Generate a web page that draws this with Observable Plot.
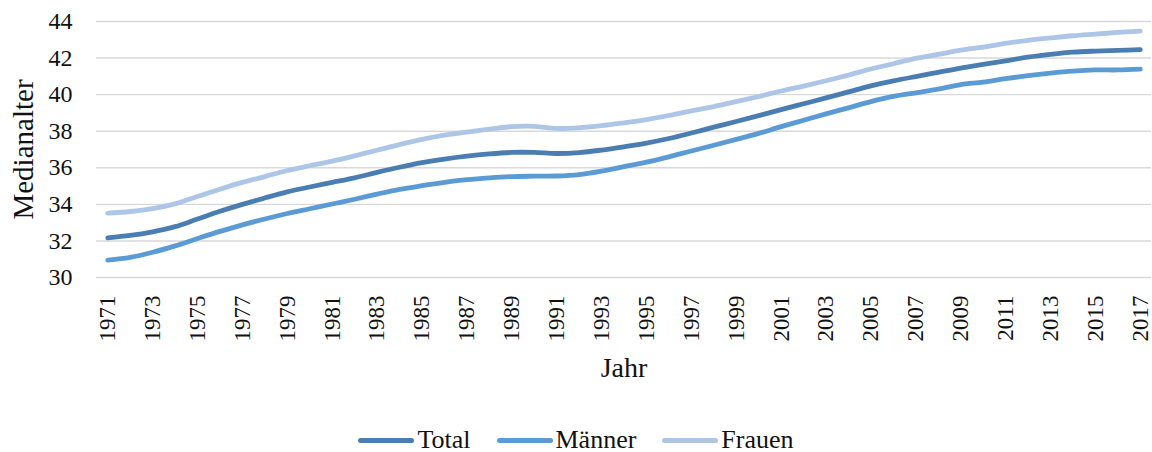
<!DOCTYPE html>
<html>
<head>
<meta charset="utf-8">
<script src="https://cdn.jsdelivr.net/npm/d3@7"></script>
<script src="https://cdn.jsdelivr.net/npm/@observablehq/plot@0.6"></script>
<style>
  html, body { margin: 0; padding: 0; background: #fff; }
  body { position: relative; width: 1152px; height: 452px; overflow: hidden; font-family: "Liberation Serif", "DejaVu Serif", serif; color: #111; }
  #legend { position: absolute; left: 0; top: 428px; width: 1152px; display: flex; justify-content: center; align-items: center; height: 24px; line-height: 24px; font-size: 26px; }
  .item { display: flex; align-items: center; margin: 0 13px; }
  .sw { width: 56px; height: 5px; border-radius: 3px; margin-right: 3px; }
</style>
</head>
<body>
<div id="chart"></div>
<div id="legend"></div>
<script>
const years = d3.range(1971, 2018);
const seriesNames = ["Total", "Männer", "Frauen"];
const seriesColors = ["#4a7db1", "#5b9bd5", "#adc5e7"];
const yTicks = [30, 32, 34, 36, 38, 40, 42, 44];
const xTicks = d3.range(1971, 2018, 2);

const total = [32.17, 32.30, 32.50, 32.78, 33.20, 33.62, 34.00, 34.35, 34.68, 34.95,
  35.20, 35.45, 35.75, 36.03, 36.28, 36.48, 36.64, 36.76, 36.84, 36.84,
  36.78, 36.83, 36.97, 37.15, 37.35, 37.60, 37.90, 38.22, 38.53, 38.85,
  39.18, 39.50, 39.82, 40.15, 40.48, 40.75, 40.99, 41.22, 41.45, 41.65,
  41.85, 42.05, 42.20, 42.32, 42.38, 42.42, 42.46];
const maenner = [30.95, 31.10, 31.38, 31.73, 32.13, 32.52, 32.88, 33.20, 33.50, 33.76,
  34.02, 34.28, 34.56, 34.82, 35.02, 35.20, 35.35, 35.45, 35.52, 35.54,
  35.55, 35.63, 35.82, 36.06, 36.31, 36.60, 36.92, 37.23, 37.55, 37.88,
  38.25, 38.60, 38.95, 39.28, 39.62, 39.90, 40.10, 40.30, 40.55, 40.68,
  40.87, 41.04, 41.18, 41.29, 41.35, 41.35, 41.40];
const frauen = [33.52, 33.61, 33.77, 34.03, 34.43, 34.83, 35.20, 35.52, 35.85, 36.11,
  36.36, 36.65, 36.96, 37.27, 37.55, 37.78, 37.95, 38.11, 38.25, 38.27,
  38.15, 38.19, 38.30, 38.46, 38.64, 38.86, 39.11, 39.35, 39.62, 39.90,
  40.20, 40.47, 40.76, 41.07, 41.40, 41.69, 41.98, 42.20, 42.43, 42.60,
  42.80, 42.97, 43.10, 43.22, 43.31, 43.40, 43.47];

const seriesValues = [total, maenner, frauen];
const data = seriesNames.flatMap((name, i) =>
  years.map((year, j) => ({ series: name, year, value: seriesValues[i][j] })));

const chart = Plot.plot({
  width: 1152,
  height: 400,
  marginLeft: 96,
  marginRight: 1,
  marginTop: 21,
  marginBottom: 123,
  style: { fontFamily: "Liberation Serif, DejaVu Serif, serif", color: "#111", background: "#fff" },
  x: { type: "linear", domain: [1970.5, 2017.5] },
  y: { domain: [30, 44] },
  color: { domain: seriesNames, range: seriesColors },
  marks: [
    Plot.ruleY(yTicks, { stroke: "#d9d9d9", strokeWidth: 1.4 }),
    Plot.axisY({ ticks: yTicks, tickSize: 0, tickPadding: 24, fontSize: 24, label: null }),
    Plot.axisX({ ticks: xTicks, tickFormat: d => String(d), tickRotate: -90, tickSize: 0, tickPadding: 18, fontSize: 23, label: null }),
    Plot.line(data, { x: "year", y: "value", z: "series", stroke: "series", strokeWidth: 4.8, strokeLinecap: "round", curve: "catmull-rom" }),
    Plot.text(["Medianalter"], { text: d => d, frameAnchor: "left", textAnchor: "middle", rotate: -90, dx: -73, fontSize: 29, fill: "#111" }),
    Plot.text(["Jahr"], { text: d => d, frameAnchor: "bottom", dy: 99, fontSize: 28, fill: "#111" })
  ]
});
document.getElementById("chart").appendChild(chart);

const legend = document.getElementById("legend");
seriesNames.forEach((name, i) => {
  const item = document.createElement("div");
  item.className = "item";
  const sw = document.createElement("span");
  sw.className = "sw";
  sw.style.background = seriesColors[i];
  const label = document.createElement("span");
  label.textContent = name;
  item.appendChild(sw);
  item.appendChild(label);
  legend.appendChild(item);
});
</script>
</body>
</html>
